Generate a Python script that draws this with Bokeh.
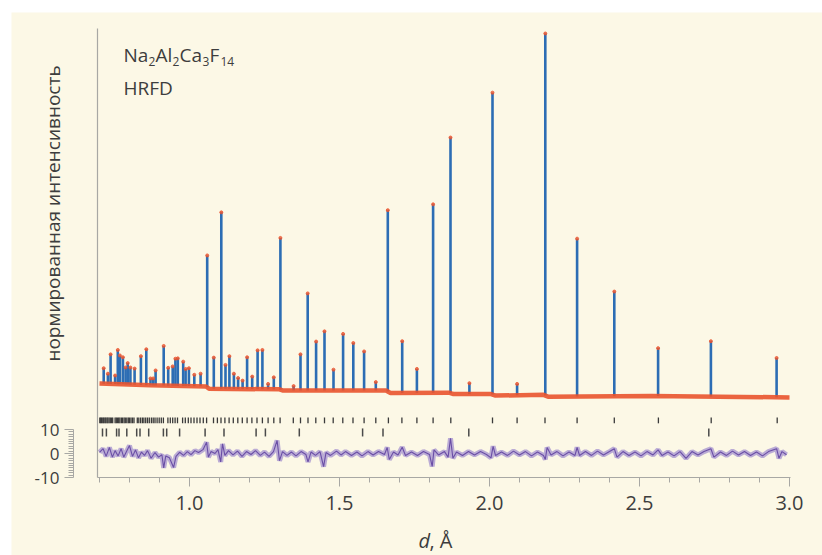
import numpy as np
from math import pi
from bokeh.plotting import figure
from bokeh.models import Range1d, LinearAxis, FixedTicker, Label, NumeralTickFormatter
from bokeh.embed import file_html
from bokeh.resources import INLINE

# ---------------- data ----------------
# Bragg peaks: d-spacing (Å) and normalised top intensity
peak_d = [0.714, 0.728, 0.737, 0.752, 0.761, 0.768, 0.778, 0.787, 0.794, 0.803,
          0.817, 0.838, 0.856, 0.870, 0.879, 0.887, 0.914, 0.929, 0.944, 0.953,
          0.961, 0.979, 0.987, 0.998, 1.016, 1.037, 1.059, 1.081, 1.106, 1.120,
          1.133, 1.148, 1.162, 1.177, 1.192, 1.209, 1.227, 1.243, 1.262, 1.281,
          1.303, 1.347, 1.370, 1.394, 1.422, 1.450, 1.480, 1.512, 1.546, 1.582,
          1.621, 1.661, 1.709, 1.758, 1.812, 1.870, 1.933, 2.010, 2.092, 2.186,
          2.292, 2.416, 2.562, 2.738, 2.957]
peak_top = [0.083, 0.068, 0.121, 0.063, 0.133, 0.118, 0.113, 0.085, 0.097, 0.085,
            0.082, 0.116, 0.135, 0.055, 0.055, 0.077, 0.144, 0.084, 0.088, 0.109,
            0.110, 0.101, 0.081, 0.083, 0.065, 0.068, 0.392, 0.112, 0.510, 0.092,
            0.116, 0.068, 0.056, 0.049, 0.113, 0.060, 0.132, 0.133, 0.040, 0.058,
            0.440, 0.034, 0.121, 0.288, 0.156, 0.184, 0.079, 0.177, 0.152, 0.129,
            0.045, 0.516, 0.157, 0.081, 0.532, 0.715, 0.042, 0.838, 0.040, 1.000,
            0.438, 0.293, 0.138, 0.157, 0.111]

# observed background level
bg_d = [0.700, 0.870, 1.055, 1.065, 1.300, 1.310, 1.655, 1.670, 1.865, 1.880,
        2.005, 2.020, 2.180, 2.195, 2.540, 3.000]
bg_i = [0.041, 0.036, 0.033, 0.027, 0.025, 0.022, 0.022, 0.015, 0.016, 0.012,
        0.012, 0.008, 0.010, 0.005, 0.007, 0.003]

# reflection positions, Na2Al2Ca3F14 (upper row)
phase1_d = [2.959, 2.739, 2.563, 2.416, 2.292, 2.185, 2.092, 2.010, 1.871, 1.812,
            1.758, 1.708, 1.663, 1.621, 1.582, 1.545, 1.511, 1.479, 1.450, 1.421,
            1.395, 1.370, 1.346, 1.302, 1.281, 1.262, 1.243, 1.225, 1.208, 1.192,
            1.176, 1.161, 1.146, 1.132, 1.118, 1.105, 1.093, 1.080, 1.057, 1.046,
            1.035, 1.025, 1.015, 1.005, 0.996, 0.986, 0.977, 0.960, 0.952, 0.944,
            0.936, 0.928, 0.913, 0.906, 0.899, 0.892, 0.885, 0.879, 0.873, 0.866,
            0.860, 0.854, 0.848, 0.843, 0.837, 0.831, 0.826, 0.815, 0.810, 0.805,
            0.800, 0.796, 0.791, 0.786, 0.782, 0.777, 0.773, 0.768, 0.764, 0.760,
            0.756, 0.752, 0.744, 0.740, 0.736, 0.732, 0.728, 0.725, 0.721, 0.718,
            0.714, 0.711, 0.707, 0.704, 0.701]
# reflection positions, second phase (lower row)
phase2_d = [0.710, 0.723, 0.757, 0.765, 0.791, 0.824, 0.835, 0.864, 0.913, 0.924,
            0.967, 1.052, 1.115, 1.222, 1.253, 1.366, 1.577, 1.645, 1.931, 2.731]

# difference curve (obs - calc)
diff_d = [0.700, 0.712, 0.722, 0.733, 0.743, 0.752, 0.762, 0.772, 0.781, 0.790,
          0.800, 0.810, 0.820, 0.830, 0.840, 0.850, 0.860, 0.872, 0.885, 0.897,
          0.908, 0.914, 0.921, 0.933, 0.947, 0.955, 0.967, 0.980, 0.993, 1.005,
          1.018, 1.030, 1.045, 1.057, 1.063, 1.072, 1.085, 1.095, 1.104, 1.110,
          1.118, 1.130, 1.145, 1.160, 1.175, 1.190, 1.205, 1.220, 1.236, 1.250,
          1.265, 1.280, 1.292, 1.300, 1.310, 1.325, 1.340, 1.355, 1.372, 1.388,
          1.395, 1.405, 1.420, 1.435, 1.447, 1.455, 1.470, 1.490, 1.505, 1.520,
          1.540, 1.558, 1.575, 1.595, 1.612, 1.630, 1.650, 1.659, 1.666, 1.680,
          1.695, 1.709, 1.720, 1.740, 1.760, 1.780, 1.800, 1.809, 1.815, 1.830,
          1.850, 1.862, 1.870, 1.878, 1.890, 1.910, 1.930, 1.950, 1.970, 1.990,
          2.005, 2.012, 2.020, 2.040, 2.060, 2.080, 2.100, 2.120, 2.140, 2.160,
          2.180, 2.186, 2.192, 2.205, 2.225, 2.245, 2.265, 2.285, 2.292, 2.300,
          2.320, 2.340, 2.360, 2.380, 2.400, 2.416, 2.425, 2.445, 2.465, 2.485,
          2.505, 2.525, 2.545, 2.562, 2.575, 2.595, 2.615, 2.635, 2.655, 2.675,
          2.695, 2.715, 2.738, 2.748, 2.770, 2.790, 2.810, 2.830, 2.850, 2.870,
          2.890, 2.910, 2.930, 2.957, 2.965, 2.975, 2.990]
diff_v = [0.5, 2.0, -1.2, 2.5, -1.5, 1.2, -1.0, 2.0, -1.5, 0.8,
          3.3, -1.2, 1.5, -1.8, 0.6, -0.8, 1.2, -2.0, 0.4, -1.5,
          -0.5, -6.0, -1.0, -1.8, -5.8, -1.2, 0.5, -0.8, 0.8, -0.5,
          1.2, 0.4, 1.6, 4.7, -1.5, 0.8, 0.0, 1.6, -3.5, 4.0,
          -0.8, 1.2, -0.6, 1.0, -1.2, 0.8, -0.4, 1.2, -0.8, 0.6,
          -1.2, 0.8, 5.4, -3.0, 0.8, -0.8, 0.6, -1.0, 0.8, -0.4,
          -3.5, 0.6, -0.8, 0.8, -5.5, 0.4, -0.8, 1.0, -0.6, 0.8,
          -0.8, 0.6, -1.0, 0.8, -0.6, 0.8, -0.4, 2.5, -2.5, 0.6,
          -0.6, 2.6, -0.8, 0.6, -0.8, 0.8, -0.4, -5.4, 1.5, -0.6,
          0.8, -1.5, 6.3, -2.0, 0.6, -0.8, 0.8, -0.6, 0.8, -0.4,
          -1.8, 3.0, -0.8, 0.6, -0.8, 1.0, -0.6, 0.8, -1.0, 0.6,
          -0.8, -2.5, 2.5, -0.6, 0.8, -1.0, 0.6, -0.8, 2.5, -0.8,
          0.8, -0.8, 1.0, -0.6, 0.8, 2.0, -1.5, 0.8, -0.8, 0.6,
          -1.0, 0.8, -0.6, 1.5, -0.8, 0.6, -1.0, 0.8, -2.0, 0.8,
          -0.6, 0.8, 2.0, -1.5, 0.6, -0.8, 1.0, -0.6, 0.8, -0.8,
          0.6, -1.0, 0.8, 2.0, -2.0, 0.8, -0.5]

x_ticks = [1.0, 1.5, 2.0, 2.5, 3.0]
x_minor = [0.7, 0.8, 0.9, 1.1, 1.2, 1.3, 1.4, 1.6, 1.7, 1.8, 1.9,
           2.1, 2.2, 2.3, 2.4, 2.6, 2.7, 2.8, 2.9]
diff_ticks = [-10, 0, 10]
diff_minor = [-9, -8, -7, -6, -5, -4, -3, -2, -1, 1, 2, 3, 4, 5, 6, 7, 8, 9]

# ---------------- styles ----------------
CREAM = "#fcf8e6"
BLUE = "#2c6db4"
RED = "#e9532d"
PURPLE = "#6a4ea6"
PURPLE_LIGHT = "#a08ccd"
AXIS = "#a8a8a4"
TEXT = "#3d3d3d"
FONT = "Open Sans"

# plotting area limits (data)
D_MIN, D_MAX = 0.6933, 3.0033        # x extent of the x axis
I_MIN, I_MAX = -0.2164, 1.0137       # y extent of the intensity axis line
DIFF_AXIS_AT = 0.6133                # x position of the difference scale

p = figure(width=811, height=543, output_backend="svg", toolbar_location=None,
           x_range=Range1d(0.40667, 3.11), y_range=Range1d(-0.43014, 1.05753),
           min_border=0, background_fill_color=CREAM, border_fill_color=CREAM,
           outline_line_color=None)
p.margin = (12, 0, 0, 11)
p.grid.visible = False
p.extra_y_ranges = {"diff": Range1d(-42.5, 183.75)}

# intensity axis: only the line
ya = p.yaxis[0]
ya.fixed_location = D_MIN
ya.bounds = (I_MIN, I_MAX)
ya.ticker = FixedTicker(ticks=[])
ya.axis_line_color = AXIS
ya.axis_line_width = 1.2
ya.major_tick_line_color = None
ya.minor_tick_line_color = None

# difference axis
dax = LinearAxis(y_range_name="diff", bounds=(-10, 10), fixed_location=DIFF_AXIS_AT,
                 ticker=FixedTicker(ticks=diff_ticks, minor_ticks=diff_minor),
                 formatter=NumeralTickFormatter(format="0"))
dax.axis_line_color = AXIS
dax.major_tick_line_color = AXIS
dax.minor_tick_line_color = AXIS
dax.major_tick_out = 9
dax.major_tick_in = 0
dax.minor_tick_out = 5
dax.minor_tick_in = 0
dax.major_label_standoff = 5
dax.major_label_text_font = FONT
dax.major_label_text_font_size = "17px"
dax.major_label_text_color = TEXT
p.add_layout(dax, "left")

# x axis
xa = p.xaxis[0]
xa.fixed_location = I_MIN
xa.bounds = (D_MIN, D_MAX)
xa.ticker = FixedTicker(ticks=x_ticks, minor_ticks=x_minor)
xa.formatter = NumeralTickFormatter(format="0.0")
xa.axis_line_color = AXIS
xa.axis_line_width = 1.2
xa.major_tick_line_color = AXIS
xa.minor_tick_line_color = AXIS
xa.major_tick_out = 9
xa.major_tick_in = 0
xa.minor_tick_out = 5
xa.minor_tick_in = 0
xa.major_label_standoff = 10
xa.major_label_text_font = FONT
xa.major_label_text_font_size = "20px"
xa.major_label_text_color = TEXT

# calculated profile (peaks)
peak_base = np.interp(peak_d, bg_d, bg_i)
p.segment(x0=peak_d, y0=peak_base, x1=peak_d, y1=peak_top,
          line_color=BLUE, line_width=2.6)
# observed
p.line(bg_d, bg_i, line_color=RED, line_width=4.5, line_alpha=0.9)
p.scatter(peak_d, peak_top, size=3, color=RED, alpha=0.8)

# reflection markers
p.segment(x0=phase1_d, y0=-0.052, x1=phase1_d, y1=-0.068,
          line_color="#3a3a3a", line_width=1.3)
p.segment(x0=phase2_d, y0=-0.082, x1=phase2_d, y1=-0.104,
          line_color="#4a4a4a", line_width=1.5)

# difference
p.line(diff_d, diff_v, y_range_name="diff", line_color=PURPLE_LIGHT,
       line_width=5, line_alpha=0.7)
p.line(diff_d, diff_v, y_range_name="diff", line_color=PURPLE, line_width=1.1)


# texts, placed by page pixel position (converted to data units)
def px_x(px):
    return 1.0 + (px - 189) / 300.0


def px_y(py):
    return (398 - py) / 365.0


def lab(text, px, py, size="19px", style="normal", **kw):
    kw.setdefault("text_baseline", "alphabetic")
    p.add_layout(Label(x=px_x(px), y=px_y(py), text=text,
                       text_font=FONT, text_font_size=size, text_color=TEXT,
                       text_font_style=style, **kw))


lab("Na", 123, 55)
lab("2", 148, 61, size="12px")
lab("Al", 155, 55)
lab("2", 172, 61, size="12px")
lab("Ca", 179, 55)
lab("3", 202, 61, size="12px")
lab("F", 209, 55)
lab("14", 220, 61, size="12px")
lab("HRFD", 123, 88)

lab("нормированная интенсивность", 53, 213, size="19px",
    angle=pi / 2, text_align="center", text_baseline="middle")

lab("d", 418, 540, size="20px", style="italic")
lab(", Å", 429, 540, size="20px")

open("out.html", "w").write(file_html(p, INLINE))
